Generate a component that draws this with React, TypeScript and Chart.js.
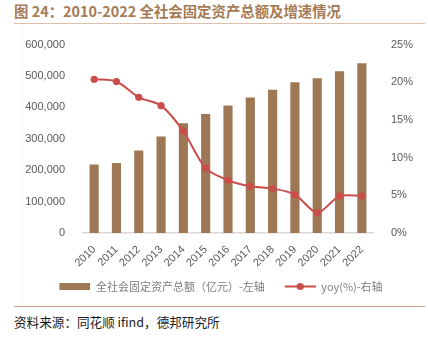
import React, { useEffect, useRef } from "react";
import { Chart, registerables } from "chart.js";

Chart.register(...registerables);

const years = ["2010", "2011", "2012", "2013", "2014", "2015", "2016", "2017", "2018", "2019", "2020", "2021", "2022"];
const totalInvestment = [218000, 223000, 263000, 307000, 349500, 379000, 406000, 431500, 456000, 480000, 492500, 515500, 541000];
const yoyGrowth = [20.4, 20.1, 18.0, 16.9, 13.5, 8.6, 7.0, 6.2, 5.9, 5.1, 2.7, 4.9, 4.9];
const leftMax = 600000;
const leftStep = 100000;
const rightMax = 25;
const rightStep = 5;

const barLabel = "全社会固定资产总额（亿元）-左轴";
const lineLabel = "yoy(%)-右轴";
const titleText = "图 24：2010-2022 全社会固定资产总额及增速情况";
const sourceText = "资料来源：同花顺 ifind，德邦研究所";

const BAR_COLOR = "#9e7754";
const LINE_COLOR = "#c94e4a";
const TICK_COLOR = "#595959";
const SWATCH_OFFSET = 7;
const SWATCH_W = 31;

function makeBarSwatch() {
  const c = document.createElement("canvas");
  c.width = SWATCH_W + SWATCH_OFFSET;
  c.height = 7;
  const ctx = c.getContext("2d")!;
  ctx.fillStyle = BAR_COLOR;
  ctx.fillRect(SWATCH_OFFSET, 0, SWATCH_W, 7);
  return c;
}

function makeLineSwatch() {
  const c = document.createElement("canvas");
  c.width = SWATCH_W + SWATCH_OFFSET;
  c.height = 9;
  const ctx = c.getContext("2d")!;
  ctx.strokeStyle = LINE_COLOR;
  ctx.lineWidth = 2;
  ctx.beginPath();
  ctx.moveTo(SWATCH_OFFSET, 4.5);
  ctx.lineTo(SWATCH_OFFSET + SWATCH_W, 4.5);
  ctx.stroke();
  ctx.fillStyle = LINE_COLOR;
  ctx.beginPath();
  ctx.arc(SWATCH_OFFSET + SWATCH_W / 2, 4.5, 3.6, 0, Math.PI * 2);
  ctx.fill();
  return c;
}

export default function App() {
  const canvasRef = useRef<HTMLCanvasElement | null>(null);

  useEffect(() => {
    document.body.style.margin = "0";
    const canvas = canvasRef.current;
    if (!canvas) return;
    const barSwatch = makeBarSwatch();
    const lineSwatch = makeLineSwatch();
    const tickFont = { family: "'Liberation Sans', Arial, sans-serif", size: 11 };

    const chart = new Chart(canvas, {
      data: {
        labels: years,
        datasets: [
          {
            type: "bar",
            label: barLabel,
            data: totalInvestment,
            backgroundColor: BAR_COLOR,
            borderWidth: 0,
            barPercentage: 0.82,
            categoryPercentage: 0.5,
            yAxisID: "yL",
            order: 2,
          },
          {
            type: "line",
            label: lineLabel,
            data: yoyGrowth,
            borderColor: LINE_COLOR,
            backgroundColor: LINE_COLOR,
            borderWidth: 2,
            pointRadius: 3.6,
            pointHoverRadius: 3.6,
            pointBackgroundColor: LINE_COLOR,
            pointBorderWidth: 0,
            tension: 0.3,
            yAxisID: "yR",
            order: 1,
          },
        ],
      },
      options: {
        responsive: false,
        animation: false,
        events: [],
        layout: { padding: { top: 13, left: 7, right: 0, bottom: 0 } },
        scales: {
          x: {
            grid: { display: false },
            border: { display: true, color: "#d9d9d9", width: 1.5 },
            ticks: {
              color: TICK_COLOR,
              font: tickFont,
              minRotation: 45,
              maxRotation: 45,
              autoSkip: false,
              padding: 2,
            },
            afterFit: (s: any) => {
              s.height = 35;
            },
          },
          yL: {
            type: "linear",
            position: "left",
            min: 0,
            max: leftMax,
            grid: { display: false },
            border: { display: false },
            ticks: {
              stepSize: leftStep,
              color: TICK_COLOR,
              font: tickFont,
              padding: 10,
              callback: (v: any) => Number(v).toLocaleString("en-US"),
            },
            afterFit: (s: any) => {
              s.width = 76;
            },
          },
          yR: {
            type: "linear",
            position: "right",
            min: 0,
            max: rightMax,
            grid: { display: false },
            border: { display: false },
            ticks: {
              stepSize: rightStep,
              color: TICK_COLOR,
              font: tickFont,
              padding: 10,
              callback: (v: any) => v + "%",
            },
            afterFit: (s: any) => {
              s.width = 55;
            },
          },
        },
        plugins: {
          title: { display: false },
          tooltip: { enabled: false },
          legend: {
            display: true,
            position: "bottom",
            labels: {
              usePointStyle: true,
              pointStyleWidth: SWATCH_W + SWATCH_OFFSET,
              padding: 13,
              color: "#7f7f7f",
              font: { family: "'Noto Sans CJK SC', sans-serif", size: 11 },
              generateLabels: () => [
                {
                  text: barLabel,
                  pointStyle: barSwatch,
                  fillStyle: BAR_COLOR,
                  strokeStyle: BAR_COLOR,
                  lineWidth: 0,
                  hidden: false,
                  datasetIndex: 0,
                  fontColor: "#7f7f7f",
                },
                {
                  text: lineLabel,
                  pointStyle: lineSwatch,
                  fillStyle: LINE_COLOR,
                  strokeStyle: LINE_COLOR,
                  lineWidth: 0,
                  hidden: false,
                  datasetIndex: 1,
                  fontColor: "#7f7f7f",
                },
              ],
            },
          },
        },
      } as any,
    });

    return () => {
      chart.destroy();
    };
  }, []);

  return (
    <div style={{ position: "fixed", left: 0, top: 0, width: 428, height: 346, background: "#fff", overflow: "hidden" }}>
      <div
        style={{
          position: "absolute",
          left: 14,
          top: 1,
          fontFamily: "'Noto Sans CJK SC', sans-serif",
          fontWeight: 700,
          fontSize: 14.4,
          color: "#a57b56",
          whiteSpace: "nowrap",
          lineHeight: "20px",
        }}
      >
        {titleText}
      </div>
      <div style={{ position: "absolute", left: 14, top: 23, width: 411, height: 1, background: "#dcc0ab" }} />
      <div style={{ position: "absolute", left: 22, top: 24, width: 1, height: 282, background: "#f3f3f3" }} />
      <canvas ref={canvasRef} width={428} height={274} style={{ position: "absolute", left: 0, top: 28, width: 428, height: 274 }} />
      <div style={{ position: "absolute", left: 14, top: 306, width: 411, height: 1, background: "#c9a186" }} />
      <div
        style={{
          position: "absolute",
          left: 14,
          top: 313,
          fontFamily: "'Noto Sans CJK SC', sans-serif",
          fontSize: 12.6,
          color: "#1a1a1a",
          whiteSpace: "nowrap",
          lineHeight: "18px",
        }}
      >
        {sourceText}
      </div>
    </div>
  );
}
